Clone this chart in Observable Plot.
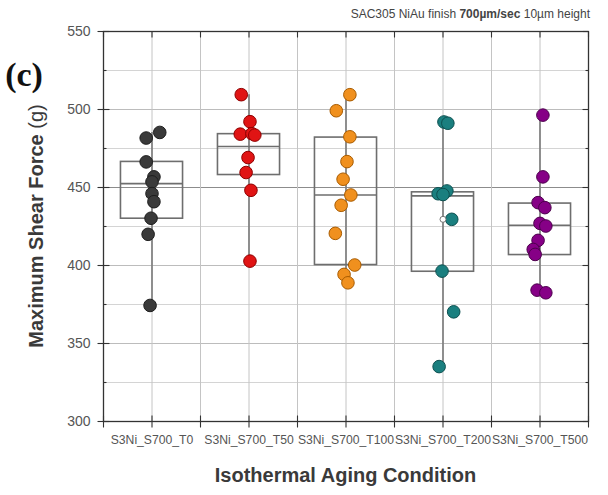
<!DOCTYPE html>
<html><head><meta charset="utf-8">
<script src="https://cdn.jsdelivr.net/npm/d3@7"></script>
<script src="https://cdn.jsdelivr.net/npm/@observablehq/plot@0.6"></script>
<style>
body{margin:0;background:#fff}
#chart svg{font-family:"Liberation Sans",Arial,sans-serif;background:#fff}
</style>
</head><body><div id="chart"></div>
<script>
// ---- data ----
const categories = ["S3Ni_S700_T0","S3Ni_S700_T50","S3Ni_S700_T100","S3Ni_S700_T200","S3Ni_S700_T500"];
const fillColors = ["#3a3a3a","#e01414","#f0901e","#1a7f7f","#860086"];
const edgeColors = ["#1e1e1e","#8e0000","#a85b00","#0d5050","#4c004c"];

const valuesT0   = [485.3,481.7,466.4,456.8,453.6,446.1,440.9,430.3,420.0,374.4];
const jitterT0   = [0.08,-0.06,-0.06,0.02,0.00,0.00,0.02,-0.01,-0.04,-0.02];
const valuesT50  = [509.5,492.2,484.2,484.5,483.6,469.2,459.6,448.2,402.8];
const jitterT50  = [-0.08,0.01,-0.09,0.03,0.06,-0.01,-0.03,0.02,0.01];
const valuesT100 = [509.5,499.2,482.5,466.6,455.3,445.2,438.6,420.6,400.3,394.3,388.9];
const jitterT100 = [0.04,-0.10,0.04,0.01,-0.03,0.05,-0.05,-0.11,0.09,-0.02,0.02];
const valuesT200 = [492.0,491.2,447.8,446.0,445.5,429.6,396.4,370.3,335.2];
const jitterT200 = [0.01,0.05,0.04,-0.05,0.00,0.09,-0.01,0.11,-0.04];
const valuesT500 = [496.4,456.8,440.3,437.1,427.0,425.3,416.1,410.3,407.1,384.2,382.5];
const jitterT500 = [0.03,0.03,-0.02,0.05,0.00,0.06,-0.02,-0.07,-0.05,-0.03,0.06];

const q1          = [430.0,458.0,400.3,396.0,406.7];
const medians     = [452.5,476.3,445.2,444.6,425.8];
const q3          = [466.4,484.2,482.0,446.9,439.7];
const whiskerLow  = [374.4,402.8,388.9,335.2,382.5];
const whiskerHigh = [485.3,509.5,509.5,491.7,496.4];
const meanT200    = 429.6;

const yTicks = [300,350,400,450,500,550];
const yMinor = [325,375,425,475,525];
const xTicks = [1,2,3,4,5];
const xMinor = [0.5,1,1.5,2,2.5,3,3.5,4,4.5,5,5.5];

// ---- tables built from the arrays ----
const groups = [[valuesT0,jitterT0],[valuesT50,jitterT50],[valuesT100,jitterT100],[valuesT200,jitterT200],[valuesT500,jitterT500]];
const points = groups.flatMap(([vals,jit],g)=>vals.map((v,j)=>({x:g+1+jit[j], y:v, g})));
const boxes = categories.map((c,i)=>({x:i+1, q1:q1[i], med:medians[i], q3:q3[i], lo:whiskerLow[i], hi:whiskerHigh[i]}));
const means = [{x:4, y:meanT200}];
const halfW = 0.32;

// tick-mark symbols (line segments, pixel lengths)
const seg = (x0,y0,x1,y1) => ({draw(ctx){ctx.moveTo(x0,y0); ctx.lineTo(x1,y1);}});
const hCross = seg(-6,0,6,0), hInR = seg(-6,0,0,0), hInRm = seg(-3,0,0,0), hInLm = seg(0,0,3,0);
const vCross = seg(0,-6,0,6), vInTop = seg(0,0,0,6);
const xmin = 0.5, xmax = 5.5, ymin = 300, ymax = 550;
const tickStyle = {r:6, fill:"none", stroke:"#333", strokeWidth:1.1};

const chart = Plot.plot({
  width:608, height:495,
  marginLeft:103, marginRight:20, marginTop:31, marginBottom:74,
  x:{domain:[xmin,xmax]},
  y:{domain:[ymin,ymax]},
  style:{fontFamily:"'Liberation Sans',Arial,sans-serif", color:"#333", background:"#fff"},
  marks:[
    Plot.ruleY(yMinor,{stroke:"#d4d4d4", strokeWidth:1}),
    Plot.ruleY([350,400,500],{stroke:"#bcbcbc", strokeWidth:1}),
    Plot.ruleY([450],{stroke:"#8c8c8c", strokeWidth:1.2}),
    Plot.ruleX(xMinor,{stroke:"#c4c4c4", strokeWidth:1}),
    Plot.ruleX(boxes,{x:"x", y1:"lo", y2:"hi", stroke:"#7a7a7a", strokeWidth:1.6}),
    Plot.rect(boxes,{x1:d=>d.x-halfW, x2:d=>d.x+halfW, y1:"q1", y2:"q3", fill:"none", stroke:"#6e6e6e", strokeWidth:1.6}),
    Plot.ruleY(boxes,{x1:d=>d.x-halfW, x2:d=>d.x+halfW, y:"med", stroke:"#6e6e6e", strokeWidth:1.6}),
    Plot.dot(points,{x:"x", y:"y", r:6.3, fill:d=>fillColors[d.g], stroke:d=>edgeColors[d.g], strokeWidth:1}),
    Plot.dot(means,{x:"x", y:"y", r:3, fill:"#fff", stroke:"#777", strokeWidth:1}),
    Plot.frame({stroke:"#333", strokeWidth:1.3}),
    // tick marks
    Plot.dot(yTicks,{x:xmin, y:d=>d, symbol:hCross, ...tickStyle}),
    Plot.dot(yMinor,{x:xmin, y:d=>d, symbol:hInLm, ...tickStyle}),
    Plot.dot(yTicks,{x:xmax, y:d=>d, symbol:hInR, ...tickStyle}),
    Plot.dot(yMinor,{x:xmax, y:d=>d, symbol:hInRm, ...tickStyle}),
    Plot.dot(xMinor,{x:d=>d, y:ymin, symbol:vCross, ...tickStyle}),
    Plot.dot(xMinor,{x:d=>d, y:ymax, symbol:vInTop, ...tickStyle}),
    // axis labels
    Plot.axisY({ticks:yTicks, tickSize:0, tickPadding:13, fontSize:14, label:null, color:"#555"}),
    Plot.axisX({ticks:xTicks, tickSize:0, tickPadding:14, fontSize:12.2, tickFormat:d=>categories[d-1], label:null, color:"#555"})
  ]
});
document.getElementById("chart").appendChild(chart);

// ---- annotations ----
const svg = d3.select(chart);
const yt = svg.append("text")
  .attr("transform","translate(38,226) rotate(-90)")
  .attr("text-anchor","middle").attr("dominant-baseline","middle")
  .attr("font-size",20).attr("fill","#3a3a3a")
  .attr("font-family","'Liberation Sans',Arial,sans-serif");
yt.append("tspan").attr("font-weight","bold").text("Maximum Shear Force ");
yt.append("tspan").text("(g)");

svg.append("text")
  .attr("x",345.5).attr("y",482)
  .attr("text-anchor","middle").attr("font-size",20).attr("font-weight","bold")
  .attr("fill","#3a3a3a").attr("font-family","'Liberation Sans',Arial,sans-serif")
  .text("Isothermal Aging Condition");

const tt = svg.append("text")
  .attr("x",590).attr("y",18).attr("text-anchor","end")
  .attr("font-size",12).attr("fill","#444")
  .attr("font-family","'Liberation Sans',Arial,sans-serif");
tt.append("tspan").text("SAC305 NiAu finish ");
tt.append("tspan").attr("font-weight","bold").text("700µm/sec");
tt.append("tspan").text(" 10µm height");

svg.append("text")
  .attr("x",24).attr("y",86)
  .attr("font-size",34).attr("font-weight","bold")
  .attr("font-family","'Liberation Serif','DejaVu Serif',serif")
  .attr("fill","#111")
  .text("(c)");
</script>
</body></html>
